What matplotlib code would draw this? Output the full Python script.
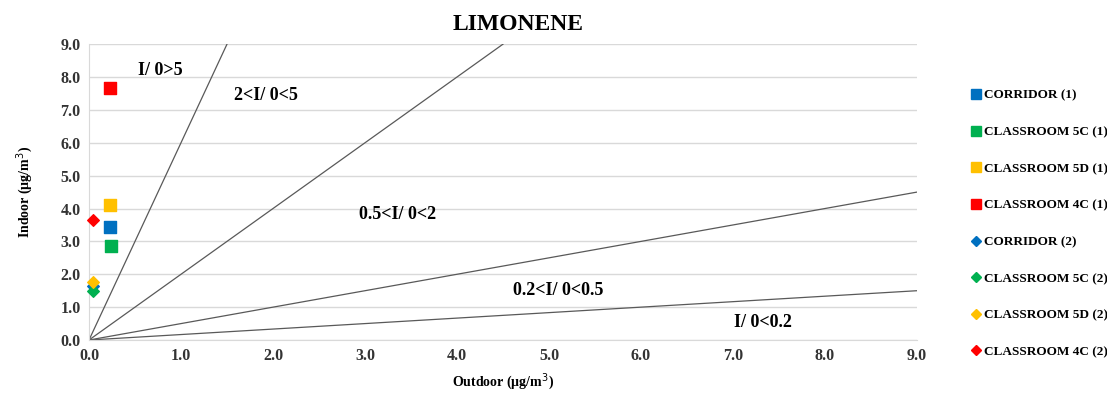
import matplotlib
matplotlib.use("Agg")
import matplotlib.pyplot as plt
from matplotlib.lines import Line2D

# I/O concentrations (µg/m3), campaign (1) squares, campaign (2) diamonds
rooms = ["CORRIDOR", "CLASSROOM 5C", "CLASSROOM 5D", "CLASSROOM 4C"]
colors = ["#0070C0", "#00B050", "#FFC000", "#FF0000"]
outdoor_1 = [0.23, 0.24, 0.23, 0.23]
indoor_1 = [3.43, 2.86, 4.10, 7.66]
outdoor_2 = [0.04, 0.04, 0.04, 0.04]
indoor_2 = [1.65, 1.50, 1.75, 3.65]

# I/O reference lines drawn from the origin to these end points
ref_x = [1.5, 4.5, 9.0, 9.0]
ref_y = [9.0, 9.0, 4.5, 1.5]

zones = ["I/ 0>5", "2<I/ 0<5", "0.5<I/ 0<2", "0.2<I/ 0<0.5", "I/ 0<0.2"]
zone_x = [0.78, 1.92, 3.35, 5.1, 7.32]
zone_y = [8.2, 7.45, 3.83, 1.52, 0.52]

SERIF = "Liberation Serif"
plt.rcParams["font.family"] = SERIF

fig = plt.figure(figsize=(11.07, 3.94), dpi=100)
ax = fig.add_axes([0.0804, 0.137, 0.748, 0.751])
ax.set_xlim(0, 9)
ax.set_ylim(0, 9)

ax.grid(axis="y", color="#d9d9d9", lw=1.0)
ax.set_axisbelow(True)
for s in ("top", "right"):
    ax.spines[s].set_visible(False)
ax.spines["left"].set_color("#d9d9d9")
ax.spines["bottom"].set_color("#d9d9d9")
ax.tick_params(length=0, pad=6)

for xe, ye in zip(ref_x, ref_y):
    ax.plot([0, xe], [0, ye], color="#595959", lw=0.9, zorder=2)

for r, c, xo, yi in zip(rooms, colors, outdoor_1, indoor_1):
    ax.scatter(xo, yi, marker="s", s=70, color=c, zorder=4, clip_on=False)
for r, c, xo, yi in zip(rooms, colors, outdoor_2, indoor_2):
    ax.scatter(xo, yi, marker="D", s=35, color=c, zorder=4, clip_on=False)

for t, x, y in zip(zones, zone_x, zone_y):
    ax.text(x, y, t, ha="center", va="center", fontsize=13, fontweight="bold",
            color="black", zorder=5)

ticks = [i * 1.0 for i in range(10)]
ax.set_xticks(ticks)
ax.set_yticks(ticks)
ax.set_xticklabels([f"{t:.1f}" for t in ticks], fontsize=11.5, fontweight="bold", color="#333333")
ax.set_yticklabels([f"{t:.1f}" for t in ticks], fontsize=11.5, fontweight="bold", color="#333333")

fig.text(518 / 1107, 1 - 25 / 394, "LIMONENE", ha="center", va="center",
         fontsize=17, fontweight="bold")
ax.set_xlabel("Outdoor (µg/m$^3$)", fontsize=10, fontweight="bold", labelpad=5)
ax.set_ylabel("Indoor (µg/m$^3$)", fontsize=10, fontweight="bold", labelpad=18)

handles = []
labels = []
for r, c in zip(rooms, colors):
    handles.append(Line2D([], [], ls="none", marker="s", ms=7, color=c))
    labels.append(f"{r} (1)")
for r, c in zip(rooms, colors):
    handles.append(Line2D([], [], ls="none", marker="D", ms=5, color=c))
    labels.append(f"{r} (2)")
fig.legend(handles, labels, loc="upper left", bbox_to_anchor=(0.872, 0.79),
           frameon=False, prop={"family": SERIF, "weight": "bold", "size": 9.5},
           labelspacing=1.85, handlelength=0.6, handletextpad=0.3, borderpad=0)

fig.savefig("out.png", dpi=100, facecolor="white")
